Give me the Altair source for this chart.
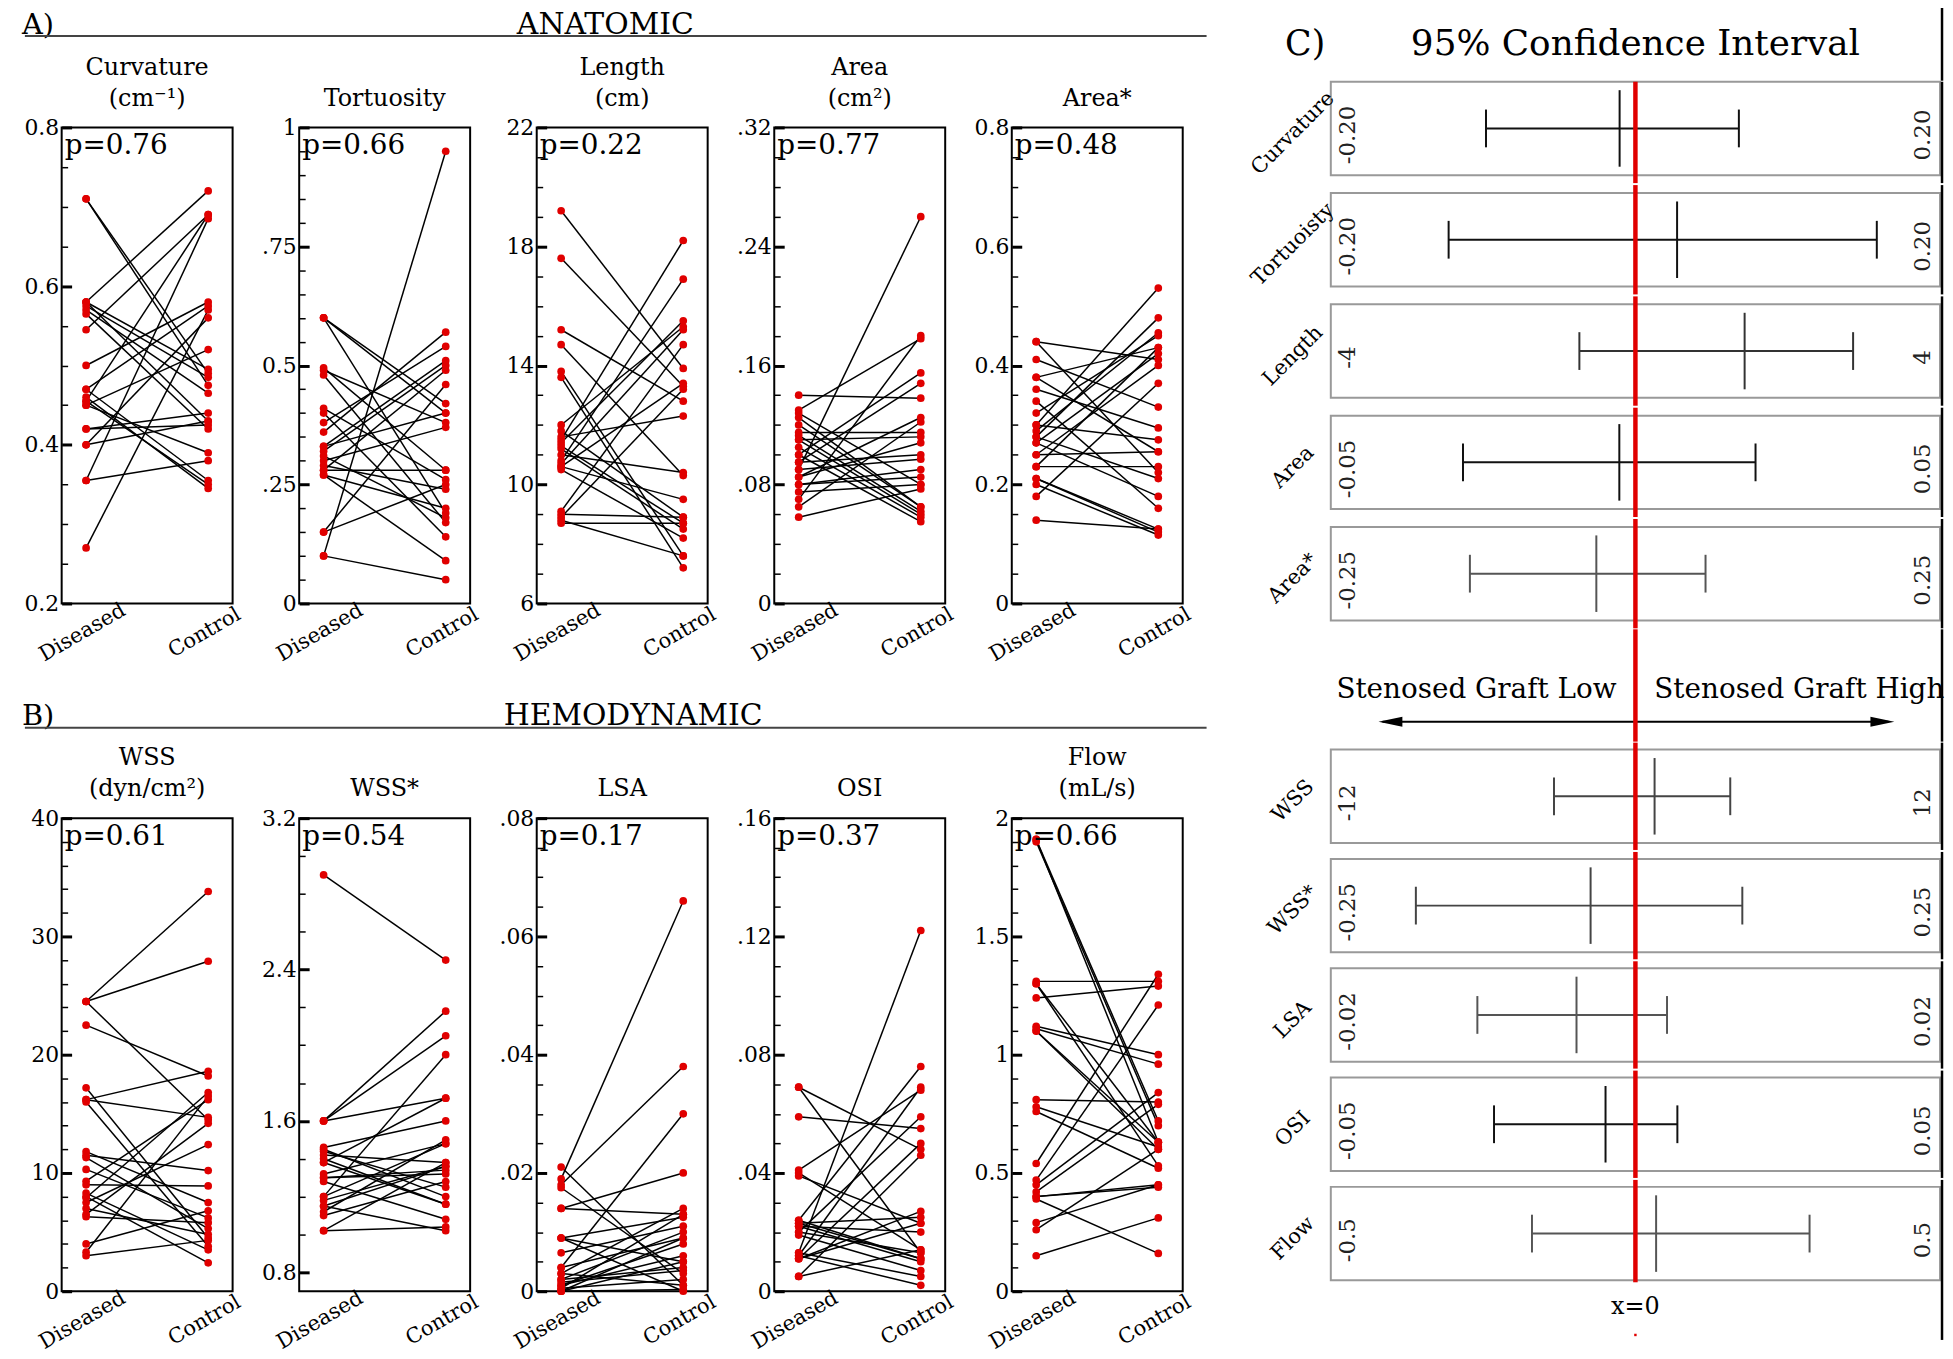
import altair as alt
import pandas as pd

FONT = "DejaVu Serif"
RED = "#e00000"

groups = ["Diseased", "Control"]

# ---------------- paired values (Diseased -> Control) ----------------
curvature_diseased = [0.71, 0.71, 0.58, 0.58, 0.575, 0.57, 0.565, 0.545, 0.50, 0.47, 0.47, 0.455,
                      0.455, 0.45, 0.45, 0.42, 0.42, 0.40, 0.40, 0.355, 0.355, 0.27, 0.46, 0.58]
curvature_control = [0.49, 0.475, 0.72, 0.43, 0.485, 0.465, 0.42, 0.69, 0.58, 0.575, 0.355, 0.69,
                     0.35, 0.52, 0.39, 0.44, 0.425, 0.56, 0.43, 0.685, 0.38, 0.57, 0.345, 0.495]

tortuosity_diseased = [0.60, 0.60, 0.60, 0.495, 0.49, 0.48, 0.41, 0.40, 0.38, 0.36, 0.33, 0.32,
                       0.30, 0.29, 0.28, 0.27, 0.27, 0.28, 0.15, 0.15, 0.10, 0.10, 0.31, 0.33]
tortuosity_control = [0.42, 0.40, 0.19, 0.28, 0.38, 0.17, 0.26, 0.14, 0.54, 0.57, 0.51, 0.50,
                      0.37, 0.24, 0.28, 0.09, 0.20, 0.49, 0.46, 0.25, 0.95, 0.05, 0.18, 0.40]

length_diseased = [19.2, 17.6, 15.2, 14.7, 13.8, 13.6, 12.0, 11.6, 11.5, 11.4, 11.3, 11.2,
                   10.8, 10.7, 10.6, 10.5, 9.1, 9.0, 8.9, 8.7, 8.8, 11.0, 10.6, 11.8]
length_control = [13.9, 13.3, 12.8, 10.3, 7.6, 7.2, 15.3, 12.3, 18.2, 15.5, 8.7, 8.5,
                  16.9, 15.2, 9.5, 8.2, 14.7, 8.9, 13.2, 8.7, 7.6, 10.4, 13.4, 8.9]

area_diseased = [0.14, 0.13, 0.128, 0.125, 0.115, 0.113, 0.11, 0.105, 0.10, 0.095, 0.09, 0.085,
                 0.08, 0.07, 0.065, 0.058, 0.11, 0.10, 0.095, 0.085, 0.09, 0.08, 0.12, 0.075]
area_control = [0.138, 0.178, 0.08, 0.065, 0.115, 0.062, 0.112, 0.058, 0.155, 0.10, 0.26, 0.125,
                0.085, 0.18, 0.122, 0.077, 0.06, 0.055, 0.148, 0.108, 0.097, 0.09, 0.065, 0.08]

area_norm_diseased = [0.44, 0.44, 0.41, 0.38, 0.38, 0.36, 0.34, 0.32, 0.30, 0.30, 0.29, 0.28,
                      0.28, 0.27, 0.25, 0.25, 0.23, 0.21, 0.21, 0.20, 0.18, 0.14, 0.27, 0.23]
area_norm_control = [0.41, 0.22, 0.33, 0.43, 0.255, 0.295, 0.16, 0.45, 0.53, 0.275, 0.455, 0.48,
                     0.21, 0.42, 0.40, 0.255, 0.43, 0.125, 0.12, 0.115, 0.37, 0.125, 0.18, 0.23]

wss_diseased = [24.5, 24.5, 24.5, 22.5, 17.2, 16.2, 16.2, 16.0, 11.8, 11.5, 11.3, 10.3,
                9.3, 9.0, 8.3, 7.9, 7.5, 7.0, 6.5, 6.3, 4.0, 3.3, 3.0, 8.0]
wss_control = [33.8, 27.9, 14.5, 18.2, 4.5, 18.6, 14.7, 3.8, 7.5, 10.2, 5.3, 6.2,
               16.2, 8.9, 3.5, 16.8, 12.4, 4.8, 14.2, 5.8, 6.8, 16.5, 4.3, 2.4]

wss_norm_diseased = [2.9, 1.6, 1.6, 1.6, 1.46, 1.44, 1.42, 1.40, 1.38, 1.32, 1.30, 1.28,
                     1.20, 1.18, 1.15, 1.12, 1.10, 1.02, 1.02, 1.30, 1.45, 1.20, 1.15, 1.38]
wss_norm_control = [2.45, 2.18, 2.05, 1.72, 1.6, 1.25, 1.38, 1.16, 1.72, 1.48, 1.34, 1.08,
                    1.95, 1.36, 1.02, 1.5, 1.28, 1.38, 1.04, 1.32, 1.2, 1.48, 1.36, 1.16]

lsa_diseased = [0.019, 0.018, 0.021, 0.0175, 0.014, 0.014, 0.009, 0.009, 0.0065, 0.004, 0.004, 0.003,
                0.002, 0.002, 0.001, 0.001, 0.0005, 0.0005, 0.0, 0.0, 0.003, 0.0015, 0.0, 0.009]
lsa_control = [0.066, 0.038, 0.001, 0.003, 0.020, 0.013, 0.0125, 0.005, 0.011, 0.030, 0.009, 0.014,
               0.010, 0.004, 0.008, 0.006, 0.013, 0.002, 0.009, 0.0003, 0.001, 0.0035, 0.005, 0.0]

osi_diseased = [0.069, 0.069, 0.059, 0.041, 0.039, 0.024, 0.023, 0.022, 0.020, 0.019, 0.013, 0.012,
                0.011, 0.011, 0.005, 0.005, 0.012, 0.022, 0.024, 0.013, 0.011, 0.020, 0.023, 0.040]
osi_control = [0.048, 0.013, 0.055, 0.068, 0.023, 0.076, 0.025, 0.010, 0.059, 0.007, 0.122, 0.069,
               0.050, 0.027, 0.046, 0.014, 0.002, 0.020, 0.011, 0.005, 0.023, 0.013, 0.011, 0.014]

flow_diseased = [1.91, 1.90, 1.91, 1.31, 1.30, 1.24, 1.12, 1.11, 1.10, 1.10, 0.81, 0.78,
                 0.76, 0.54, 0.47, 0.45, 0.42, 0.40, 0.39, 0.29, 0.26, 0.15, 0.40, 1.30]
flow_control = [0.72, 0.70, 0.63, 1.31, 0.53, 1.29, 1.00, 0.96, 0.63, 0.60, 0.80, 0.61,
                0.52, 1.34, 1.21, 0.84, 0.79, 0.44, 0.16, 0.45, 0.60, 0.31, 0.45, 0.63]

panel_titles = [["Curvature", "(cm\u207b\u00b9)"], "Tortuosity", ["Length", "(cm)"], ["Area", "(cm\u00b2)"],
                "Area*", ["WSS", "(dyn/cm\u00b2)"], "WSS*", "LSA", "OSI", ["Flow", "(mL/s)"]]
p_values = ["p=0.76", "p=0.66", "p=0.22", "p=0.77", "p=0.48",
            "p=0.61", "p=0.54", "p=0.17", "p=0.37", "p=0.66"]
y_domains = [[0.2, 0.8], [0, 1], [6, 22], [0, 0.32], [0, 0.8],
             [0, 40], [0.7, 3.2], [0, 0.08], [0, 0.16], [0, 2]]
minor_steps = [0.05, 0.05, 1, 0.02, 0.05, 2, 0.2, 0.005, 0.01, 0.1]
major_ticks = [[0.2, 0.4, 0.6, 0.8], [0, 0.25, 0.5, 0.75, 1], [6, 10, 14, 18, 22],
               [0, 0.08, 0.16, 0.24, 0.32], [0, 0.2, 0.4, 0.6, 0.8], [0, 10, 20, 30, 40],
               [0.8, 1.6, 2.4, 3.2], [0, 0.02, 0.04, 0.06, 0.08], [0, 0.04, 0.08, 0.12, 0.16],
               [0, 0.5, 1, 1.5, 2]]
major_tick_labels = [["0.2", "0.4", "0.6", "0.8"], ["0", ".25", "0.5", ".75", "1"],
                     ["6", "10", "14", "18", "22"], ["0", ".08", ".16", ".24", ".32"],
                     ["0", "0.2", "0.4", "0.6", "0.8"], ["0", "10", "20", "30", "40"],
                     ["0.8", "1.6", "2.4", "3.2"], ["0", ".02", ".04", ".06", ".08"],
                     ["0", ".04", ".08", ".12", ".16"], ["0", "0.5", "1", "1.5", "2"]]
paired = [(curvature_diseased, curvature_control), (tortuosity_diseased, tortuosity_control),
          (length_diseased, length_control), (area_diseased, area_control),
          (area_norm_diseased, area_norm_control), (wss_diseased, wss_control),
          (wss_norm_diseased, wss_norm_control), (lsa_diseased, lsa_control),
          (osi_diseased, osi_control), (flow_diseased, flow_control)]

section_letters = ["A)", "B)"]
section_words = ["ANATOMIC", "HEMODYNAMIC"]

# ---------------- 95% confidence intervals ----------------
ci_names = ["Curvature", "Tortuoisty", "Length", "Area", "Area*", "WSS", "WSS*", "LSA", "OSI", "Flow"]
ci_limit = [0.20, 0.20, 4, 0.05, 0.25, 12, 0.25, 0.02, 0.05, 0.5]
ci_limit_low_label = ["-0.20", "-0.20", "-4", "-0.05", "-0.25", "-12", "-0.25", "-0.02", "-0.05", "-0.5"]
ci_limit_high_label = ["0.20", "0.20", "4", "0.05", "0.25", "12", "0.25", "0.02", "0.05", "0.5"]
ci_lower = [-0.104, -0.130, -0.78, -0.030, -0.144, -3.40, -0.191, -0.011, -0.0246, -0.180]
ci_mean = [-0.011, 0.029, 1.52, -0.0028, -0.034, 0.80, -0.039, -0.0041, -0.0052, 0.036]
ci_upper = [0.072, 0.168, 3.03, 0.0209, 0.061, 3.96, 0.093, 0.0022, 0.0073, 0.303]
ci_colors = ["#111", "#111", "#333", "#111", "#555", "#444", "#444", "#555", "#111", "#555"]
direction_labels = ["Stenosed Graft Low", "Stenosed Graft High"]
ci_title = ["C)", "95% Confidence Interval"]
zero_label = "x=0"

# ---------------- layout constants ----------------
PW = 172                   # slope panel width
PSPACE = 67
CW, CH = 613, 94           # CI rows
HALF_TOP = 8               # half gap between CI rows (upper block)
HALF_BOT = 7               # half gap between CI rows (lower block)
RED_W = 4.5


def slope_panel(i, height):
    dis, con = paired[i]
    n = len(dis)
    df = pd.DataFrame({"pair": list(range(n)) * 2,
                       "group": [groups[0]] * n + [groups[1]] * n,
                       "value": list(dis) + list(con)})
    majors, labels = major_ticks[i], major_tick_labels[i]
    step = minor_steps[i]
    k = int(round((majors[-1] - majors[0]) / step))
    tick_vals = [round(majors[0] + j * step, 6) for j in range(k + 1)]
    is_major = " || ".join(f"abs(datum.value - ({m})) < 1e-7" for m in majors)
    label_expr = "".join(f"abs(datum.value - ({m})) < 1e-7 ? '{l}' : " for m, l in zip(majors, labels)) + "''"

    xenc = alt.X("group:N", sort=groups, scale=alt.Scale(type="point", padding=0.2),
                 axis=alt.Axis(title=None, labelAngle=-30, labelAlign="center", labelBaseline="middle",
                               labelPadding=29, labelOffset=-4, ticks=False, domain=False, labelFontSize=21,
                               labelFont=FONT, labelColor="black"))
    yenc = alt.Y("value:Q", scale=alt.Scale(domain=y_domains[i], nice=False, zero=False),
                 axis=alt.Axis(title=None, values=tick_vals, labelExpr=label_expr, labelOverlap=False,
                               tickSize={"expr": f"({is_major}) ? -10 : -6"},
                               tickWidth={"condition": {"test": is_major, "value": 3}, "value": 1.5},
                               tickColor="black", labelPadding=13, domain=False, grid=False,
                               labelFontSize=22, labelFont=FONT, labelColor="black"))
    base = alt.Chart(df)
    lines = base.mark_line(color="black", strokeWidth=1.5).encode(x=xenc, y=yenc, detail="pair:N")
    pts = base.mark_circle(color=RED, size=60, opacity=1).encode(x=xenc, y=yenc)
    ptxt = alt.Chart(pd.DataFrame({"p": [p_values[i]]})).mark_text(
        align="left", baseline="top", font=FONT, fontSize=28, color="black"
    ).encode(text="p:N", x=alt.value(3), y=alt.value(5))
    return alt.layer(lines, pts, ptxt).properties(
        width=PW, height=height,
        title=alt.TitleParams(panel_titles[i], font=FONT, fontSize=24, fontWeight="normal",
                              anchor="middle", offset=6, lineHeight=31, color="black"))


def section_header(j, width, height, base_y, word_x):
    d = pd.DataFrame({"letter": [section_letters[j]], "word": [section_words[j]]})
    base = alt.Chart(d)
    a = base.mark_text(align="left", baseline="alphabetic", font=FONT, fontSize=29, color="black").encode(
        text="letter:N", x=alt.value(-40), y=alt.value(base_y))
    w = base.mark_text(align="center", baseline="alphabetic", font=FONT, fontSize=30, color="black").encode(
        text="word:N", x=alt.value(word_x), y=alt.value(base_y))
    r = base.mark_rule(color="#444", strokeWidth=2).encode(
        x=alt.value(-37), x2=alt.value(width + 24), y=alt.value(height))
    return alt.layer(a, w, r).properties(width=width, height=height,
                                         view=alt.ViewBackground(strokeOpacity=0))


def vtick(base, x_enc, top, bottom, height, color, thickness):
    """A vertical filled tick spanning [top, bottom] pixels of a view of the given height."""
    return base.mark_tick(orient="vertical", color=color, thickness=thickness, size=bottom - top,
                          yOffset=(top + bottom) / 2 - height / 2, opacity=1).encode(x=x_enc)


def ci_row(i, y_top, y_bot, border_top, border_bot, last=False):
    L = ci_limit[i]
    xs = alt.Scale(domain=[-1.06 * L, 1.06 * L], nice=False, zero=False)
    d = pd.DataFrame({"zero": [0.0], "lo": [ci_lower[i]], "mean": [ci_mean[i]], "hi": [ci_upper[i]]})
    base = alt.Chart(d)
    col = ci_colors[i]
    bar = base.mark_rule(color=col, strokeWidth=2).encode(
        x=alt.X("lo:Q", scale=xs, axis=None), x2="hi:Q", y=alt.value(CH / 2))
    caps = base.transform_fold(["lo", "hi"], as_=["end", "v"]).mark_tick(
        color=col, size=38, thickness=2, opacity=1).encode(x=alt.X("v:Q", scale=xs, axis=None))
    mid = base.mark_tick(color=col, size=77, thickness=2, opacity=1).encode(
        x=alt.X("mean:Q", scale=xs, axis=None))
    labs = alt.Chart(pd.DataFrame({"v": [-L, L], "t": [ci_limit_low_label[i], ci_limit_high_label[i]]})).mark_text(
        angle=270, font=FONT, fontSize=23, color="#222", baseline="middle", align="center"
    ).encode(x=alt.X("v:Q", scale=xs, axis=None), text="t:N", y=alt.value(CH * 0.57))
    name = alt.Chart(pd.DataFrame({"n": [ci_names[i]]})).mark_text(
        angle=315, font=FONT, fontSize=21, color="black", baseline="middle", align="center"
    ).encode(text="n:N", x=alt.value(-38), y=alt.value(52))
    red = vtick(base, alt.X("zero:Q", scale=xs, axis=None), y_top, y_bot, CH, RED, RED_W)
    border = vtick(base, alt.value(CW + 2), border_top, border_bot, CH, "black", 2.5)
    layers = [bar, caps, mid, labs, name, red, border]
    if last:
        zl = alt.Chart(pd.DataFrame({"z": [0.0], "t": [zero_label]})).mark_text(
            font=FONT, fontSize=24, color="black", baseline="middle", align="center"
        ).encode(x=alt.X("z:Q", scale=xs, axis=None), text="t:N", y=alt.value(CH + 27))
        dot = alt.Chart(pd.DataFrame({"z": [0.0]})).mark_square(color=RED, size=6, opacity=1).encode(
            x=alt.X("z:Q", scale=xs, axis=None), y=alt.value(CH + 55))
        layers += [zl, dot]
    return alt.layer(*layers).properties(width=CW, height=CH,
                                         view=alt.ViewBackground(stroke="#999", strokeWidth=2))


def arrow_chart(height):
    d = pd.DataFrame({"zero": [0.0], "low": [direction_labels[0]], "high": [direction_labels[1]]})
    xs = alt.Scale(domain=[-1.06, 1.06], nice=False, zero=False)
    base = alt.Chart(d)
    ty, ay = 53, 85
    low = base.mark_text(align="right", baseline="middle", font=FONT, fontSize=28, dx=-19, color="black").encode(
        x=alt.X("zero:Q", scale=xs, axis=None), y=alt.value(ty), text="low:N")
    high = base.mark_text(align="left", baseline="middle", font=FONT, fontSize=28, dx=19, color="black").encode(
        x=alt.X("zero:Q", scale=xs, axis=None), y=alt.value(ty), text="high:N")
    line = base.mark_rule(color="black", strokeWidth=2).encode(
        x=alt.value(52), x2=alt.value(CW - 52), y=alt.value(ay))
    head_l = base.mark_point(shape="M-1,0L1,-0.42L1,0.42Z", filled=True, size=576, color="black",
                             opacity=1, strokeWidth=0).encode(x=alt.value(60), y=alt.value(ay))
    head_r = base.mark_point(shape="M1,0L-1,-0.42L-1,0.42Z", filled=True, size=576, color="black",
                             opacity=1, strokeWidth=0).encode(x=alt.value(CW - 58), y=alt.value(ay))
    red = vtick(base, alt.X("zero:Q", scale=xs, axis=None), -HALF_TOP, height + HALF_BOT, height, RED, RED_W)
    border = vtick(base, alt.value(CW + 2), -HALF_TOP, height + HALF_BOT, height, "black", 2.5)
    return alt.layer(line, head_l, head_r, low, high, red, border).properties(
        width=CW, height=height, view=alt.ViewBackground(strokeOpacity=0))


def ci_header(height, text_y):
    d = pd.DataFrame({"c": [ci_title[0]], "t": [ci_title[1]]})
    base = alt.Chart(d)
    c = base.mark_text(align="left", baseline="middle", font=FONT, fontSize=35, color="black").encode(
        text="c:N", x=alt.value(-46), y=alt.value(text_y))
    t = base.mark_text(align="center", baseline="middle", font=FONT, fontSize=36, color="black").encode(
        text="t:N", x=alt.value(CW / 2), y=alt.value(text_y))
    border = vtick(base, alt.value(CW + 2), 0, height, height, "black", 2.5)
    return alt.layer(c, t, border).properties(width=CW, height=height,
                                              view=alt.ViewBackground(strokeOpacity=0))


row_width = 5 * PW + 4 * PSPACE
row_a = alt.hconcat(*[slope_panel(i, 479) for i in range(5)], spacing=PSPACE, bounds="flush")
row_b = alt.hconcat(*[slope_panel(i, 476) for i in range(5, 10)], spacing=PSPACE, bounds="flush")
left = alt.vconcat(section_header(0, row_width, 29, 27, 547), row_a,
                   section_header(1, row_width, 47, 44, 575), row_b,
                   spacing=15)

right_items = [ci_header(74, 37)]
for i in range(5):
    first = (i == 0)
    top = 0 if first else -HALF_TOP
    right_items.append(ci_row(i, top, CH + HALF_TOP, top, CH + HALF_TOP))
right_items.append(arrow_chart(98))
for i in range(5, 10):
    last = (i == 9)
    right_items.append(ci_row(i, -HALF_BOT, CH + 2 if last else CH + HALF_BOT, -HALF_BOT,
                              CH + 60 if last else CH + HALF_BOT, last=last))
right = alt.vconcat(*right_items, spacing=0)

chart = alt.hconcat(left, right, spacing=38).properties(
    padding={"left": 14, "top": -5, "right": 0, "bottom": 0}
).configure_view(stroke="black", strokeWidth=2).configure_title(font=FONT, fontWeight="normal", color="black")

chart.save("out.html", embed_options={"renderer": "svg", "actions": False})
